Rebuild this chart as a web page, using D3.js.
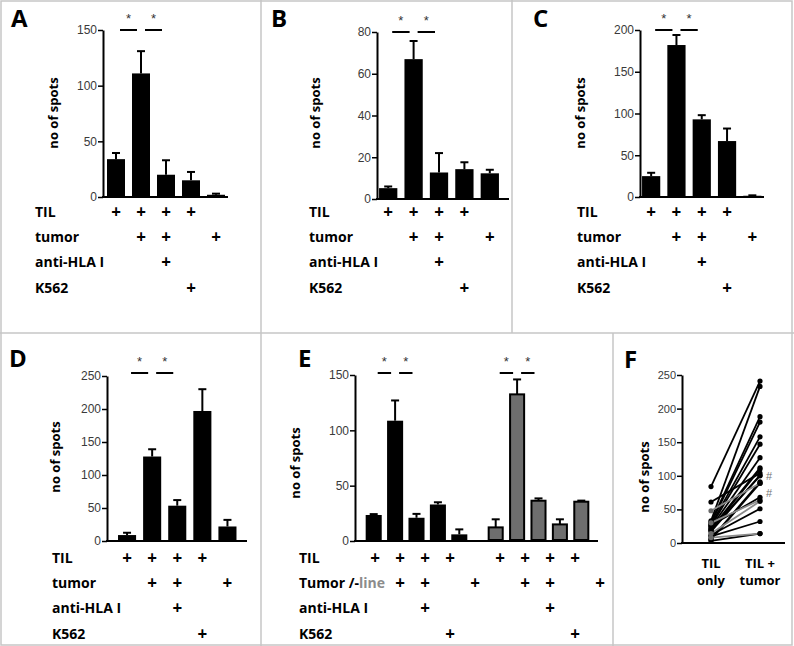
<!DOCTYPE html>
<html><head><meta charset="utf-8">
<script src="https://cdn.jsdelivr.net/npm/d3@7"></script>
<style>body{margin:0;background:#fff}svg{display:block}</style>
</head><body>
<svg id="chart" width="794" height="646"></svg>
<script>
// ---------- data ----------
const rowLabels = ["TIL", "tumor", "anti-HLA I", "K562"];
const tilRow   = [1, 1, 1, 1, 0];
const tumorRow = [0, 1, 1, 0, 1];
const hlaRow   = [0, 0, 1, 0, 0];
const k562Row  = [0, 0, 0, 1, 0];

const aMean = [34, 111, 20, 15, 2];
const aErr  = [39.5, 131, 33, 22.5, 3];
const aTicks = [0, 50, 100, 150];

const bMean = [5.2, 67, 12.7, 14.3, 12.3];
const bErr  = [6, 75.7, 22, 17.6, 14];
const bTicks = [0, 20, 40, 60, 80];

const cMean = [25, 182, 93, 67, 1.5];
const cErr  = [29, 194, 98, 82, 2];
const cTicks = [0, 50, 100, 150, 200];

const dMean = [9, 128, 53.5, 197, 22];
const dErr  = [12.5, 139, 62, 230, 32];
const dTicks = [0, 50, 100, 150, 200, 250];

const eBlackMean = [23.5, 108.7, 21, 33, 6];
const eBlackErr  = [24.3, 127, 24.5, 35, 10.5];
const eGrayMean  = [12.3, 132.5, 36.4, 15, 35.5];
const eGrayErr   = [19.6, 146, 38.5, 19.6, 36.5];
const eTicks = [0, 50, 100, 150];
const eRowLabels = ["TIL", "Tumor /-", "anti-HLA I", "K562"];
const eTilRow   = [1, 1, 1, 1, 0, 1, 1, 1, 1, 0];
const eTumorRow = [0, 1, 1, 0, 1, 0, 1, 1, 0, 1];
const eHlaRow   = [0, 0, 1, 0, 0, 0, 0, 1, 0, 0];
const eK562Row  = [0, 0, 0, 1, 0, 0, 0, 0, 1, 0];

const sigPairs = [[0, 1], [1, 2]];

const fCategories = ["TIL only", "TIL + tumor"];
const fLeft  = [84, 61, 48, 33, 31, 29, 27, 25, 23, 21, 19, 17, 30, 26, 14, 12, 10, 8, 5, 3, 20, 6];
const fRight = [241, 104, 89, 233, 188, 180, 158, 147, 127, 112, 110, 101, 64, 68, 62, 51, 32, 14, 89, 14, 100, 91];
const fGray  = [0, 0, 1, 0, 0, 0, 0, 0, 0, 0, 0, 0, 1, 0, 1, 0, 0, 1, 0, 0, 0, 0];
const fHash  = [0, 0, 1, 0, 0, 0, 0, 0, 0, 0, 0, 0, 1, 0, 0, 0, 0, 0, 0, 0, 0, 0];
const fTicks = [0, 50, 100, 150, 200, 250];

// ---------- drawing ----------
const svg = d3.select("#chart");
const LBL = "'Open Sans', 'DejaVu Sans', sans-serif";
const TCK = "'Liberation Sans', Arial, sans-serif";

// panel frames
const frame = svg.append("g").attr("stroke", "#c6c6c6").attr("stroke-width", 1.5).attr("fill", "none");
frame.append("rect").attr("x", 1).attr("y", 1).attr("width", 791).attr("height", 644);
frame.append("line").attr("x1", 261).attr("x2", 261).attr("y1", 0).attr("y2", 646);
frame.append("line").attr("x1", 512).attr("x2", 512).attr("y1", 0).attr("y2", 333);
frame.append("line").attr("x1", 0).attr("x2", 794).attr("y1", 333).attr("y2", 333);
frame.append("line").attr("x1", 613).attr("x2", 613).attr("y1", 333).attr("y2", 646);

function yAxis(g, y, x0, ticks, fs) {
  const ax = g.append("g").attr("transform", `translate(${x0},0)`)
    .call(d3.axisLeft(y).tickValues(ticks).tickSize(5).tickSizeOuter(0).tickPadding(1).tickFormat(d3.format("d")));
  ax.select(".domain").attr("stroke", "#000").attr("stroke-width", 2);
  ax.selectAll(".tick line").attr("stroke", "#000").attr("stroke-width", 1.5);
  ax.selectAll(".tick text").attr("font-family", TCK).attr("font-size", fs).attr("fill", "#3a3a3a");
  return ax;
}

function letter(t, x, y) {
  svg.append("text").attr("x", x).attr("y", y).text(t)
    .attr("font-family", LBL).attr("font-weight", 700).attr("font-size", 24).attr("fill", "#000");
}
function yLabel(x, y) {
  svg.append("text").attr("transform", `translate(${x},${y}) rotate(-90)`)
    .attr("text-anchor", "middle").attr("dominant-baseline", "central")
    .attr("font-family", LBL).attr("font-weight", 700).attr("font-size", 13).text("no of spots");
}

function bars(g, x, y, mean, err, fill, strokeW) {
  const bw = x.bandwidth();
  g.selectAll(null).data(mean).enter().append("rect")
    .attr("x", (d, i) => x(i) + strokeW / 2).attr("width", bw - strokeW)
    .attr("y", d => y(d)).attr("height", d => y(0) - y(d) - 1)
    .attr("fill", fill).attr("stroke", "#000").attr("stroke-width", strokeW);
  g.selectAll(null).data(mean).enter().append("line")
    .attr("x1", (d, i) => x(i) + bw / 2).attr("x2", (d, i) => x(i) + bw / 2)
    .attr("y1", d => y(d)).attr("y2", (d, i) => y(err[i]))
    .attr("stroke", "#000").attr("stroke-width", 2);
  g.selectAll(null).data(err).enter().append("line")
    .attr("x1", (d, i) => x(i) + bw / 2 - 4).attr("x2", (d, i) => x(i) + bw / 2 + 4)
    .attr("y1", d => y(d)).attr("y2", d => y(d))
    .attr("stroke", "#000").attr("stroke-width", 2);
}

function sig(g, x, lineY) {
  const c = i => x(i) + x.bandwidth() / 2;
  sigPairs.forEach(([a, b]) => {
    g.append("line").attr("x1", c(a) + 4).attr("x2", c(b) - 4).attr("y1", lineY).attr("y2", lineY)
      .attr("stroke", "#000").attr("stroke-width", 2);
    g.append("text").attr("x", (c(a) + c(b)) / 2).attr("y", lineY - 7).attr("text-anchor", "middle")
      .attr("font-family", TCK).attr("font-size", 13).attr("fill", "#333").text("*");
  });
}

function table(g, labels, rows, colX, labelX, rowYs) {
  labels.forEach((lab, r) => {
    g.append("text").attr("x", labelX).attr("y", rowYs[r]).attr("dominant-baseline", "central")
      .attr("font-family", LBL).attr("font-weight", 700).attr("font-size", 14).text(lab);
    rows[r].forEach((v, i) => {
      if (!v) return;
      g.append("text").attr("x", colX(i)).attr("y", rowYs[r]).attr("text-anchor", "middle")
        .attr("dominant-baseline", "central")
        .attr("font-family", LBL).attr("font-weight", 700).attr("font-size", 17).text("+");
    });
  });
}

function barPanel(c) {
  const g = svg.append("g");
  const y = d3.scaleLinear().domain([0, c.yMax]).range([c.y0, c.yTop]);
  const x = d3.scaleBand().domain(d3.range(c.mean.length)).range(c.xRange).paddingInner(0.28).paddingOuter(0.14);
  bars(g, x, y, c.mean, c.err, "#000", 0);
  yAxis(g, y, c.axisX, c.ticks, 12);
  g.append("line").attr("x1", c.axisX - 1).attr("x2", c.xEnd).attr("y1", c.y0).attr("y2", c.y0)
    .attr("stroke", "#000").attr("stroke-width", 2);
  sig(g, x, c.sigY);
  letter(c.letter, c.lx, c.ly);
  yLabel(c.ylx, c.yly);
  table(g, rowLabels, [tilRow, tumorRow, hlaRow, k562Row], i => x(i) + x.bandwidth() / 2, c.rowX, c.rowYs);
}

const topRows = [211, 236, 261, 287];
const botRows = [557, 582, 607, 633];
barPanel({letter: "A", lx: 11, ly: 27, mean: aMean, err: aErr, yMax: 150, ticks: aTicks,
  axisX: 103, xEnd: 228, y0: 197, yTop: 30, xRange: [103.5, 228.5], sigY: 30,
  ylx: 53, yly: 113, rowX: 35, rowYs: topRows});
barPanel({letter: "B", lx: 271, ly: 27, mean: bMean, err: bErr, yMax: 80, ticks: bTicks,
  axisX: 377, xEnd: 509, y0: 199, yTop: 32, xRange: [375.5, 502.5], sigY: 32,
  ylx: 315, yly: 113, rowX: 309, rowYs: topRows});
barPanel({letter: "C", lx: 533, ly: 27, mean: cMean, err: cErr, yMax: 200, ticks: cTicks,
  axisX: 640, xEnd: 764, y0: 197, yTop: 30, xRange: [638.5, 765], sigY: 30,
  ylx: 580, yly: 113, rowX: 577, rowYs: topRows});
barPanel({letter: "D", lx: 9, ly: 367, mean: dMean, err: dErr, yMax: 250, ticks: dTicks,
  axisX: 107, xEnd: 247, y0: 541, yTop: 376, xRange: [114.5, 240], sigY: 373,
  ylx: 55, yly: 457, rowX: 52, rowYs: botRows});

// ---------- panel E ----------
(function () {
  const g = svg.append("g");
  const y = d3.scaleLinear().domain([0, 150]).range([541, 375]);
  const xb = d3.scaleBand().domain(d3.range(eBlackMean.length)).range([363, 470]).paddingInner(0.25).paddingOuter(0.125);
  const xg = d3.scaleBand().domain(d3.range(eGrayMean.length)).range([485, 592]).paddingInner(0.25).paddingOuter(0.125);
  bars(g, xb, y, eBlackMean, eBlackErr, "#000", 0);
  bars(g, xg, y, eGrayMean, eGrayErr, "#6e6e6e", 2);
  yAxis(g, y, 355, eTicks, 12);
  g.append("line").attr("x1", 354).attr("x2", 598).attr("y1", 541).attr("y2", 541)
    .attr("stroke", "#000").attr("stroke-width", 2);
  sig(g, xb, 373);
  sig(g, xg, 373);
  letter("E", 298, 367);
  yLabel(295, 463);
  const col = d3.scalePoint().domain(d3.range(eTilRow.length)).range([375, 600]);
  table(g, eRowLabels, [eTilRow, eTumorRow, eHlaRow, eK562Row], i => col(i), 299, botRows);
  // grey "line" suffix
  const t = g.selectAll("text").filter(function () { return d3.select(this).text() === "Tumor /-"; });
  t.append("tspan").attr("fill", "#8c8c8c").text("line");
})();

// ---------- panel F ----------
(function () {
  const g = svg.append("g");
  const y = d3.scaleLinear().domain([0, 250]).range([543, 375]);
  const x = d3.scalePoint().domain(fCategories).range([711, 760]);
  yAxis(g, y, 682, fTicks, 11);
  g.append("line").attr("x1", 681).attr("x2", 785).attr("y1", 543).attr("y2", 543)
    .attr("stroke", "#000").attr("stroke-width", 2);
  const idx = d3.range(fLeft.length).sort((a, b) => fGray[a] - fGray[b]);
  idx.forEach(i => {
    const col = fGray[i] ? "#8a8a8a" : "#000";
    g.append("line").attr("x1", x(fCategories[0])).attr("x2", x(fCategories[1]))
      .attr("y1", y(fLeft[i])).attr("y2", y(fRight[i])).attr("stroke", col).attr("stroke-width", 1.8);
  });
  idx.forEach(i => {
    const col = fGray[i] ? "#6a6a6a" : "#000";
    g.append("circle").attr("cx", x(fCategories[0])).attr("cy", y(fLeft[i])).attr("r", 2.6).attr("fill", col);
    g.append("circle").attr("cx", x(fCategories[1])).attr("cy", y(fRight[i])).attr("r", 2.6).attr("fill", "#000");
    if (fHash[i]) {
      g.append("text").attr("x", x(fCategories[1]) + 6).attr("y", y(fRight[i]) - 3)
        .attr("font-family", TCK).attr("font-size", 11).attr("fill", "#777").text("#");
    }
  });
  const xl = [["TIL", "only"], ["TIL +", "tumor"]];
  fCategories.forEach((c, k) => {
    xl[k].forEach((s, j) => {
      g.append("text").attr("x", x(c)).attr("y", 563 + j * 17).attr("text-anchor", "middle")
        .attr("dominant-baseline", "central")
        .attr("font-family", LBL).attr("font-weight", 700).attr("font-size", 13).text(s);
    });
  });
  letter("F", 624, 368);
  yLabel(644, 477);
})();
</script>
</body></html>
